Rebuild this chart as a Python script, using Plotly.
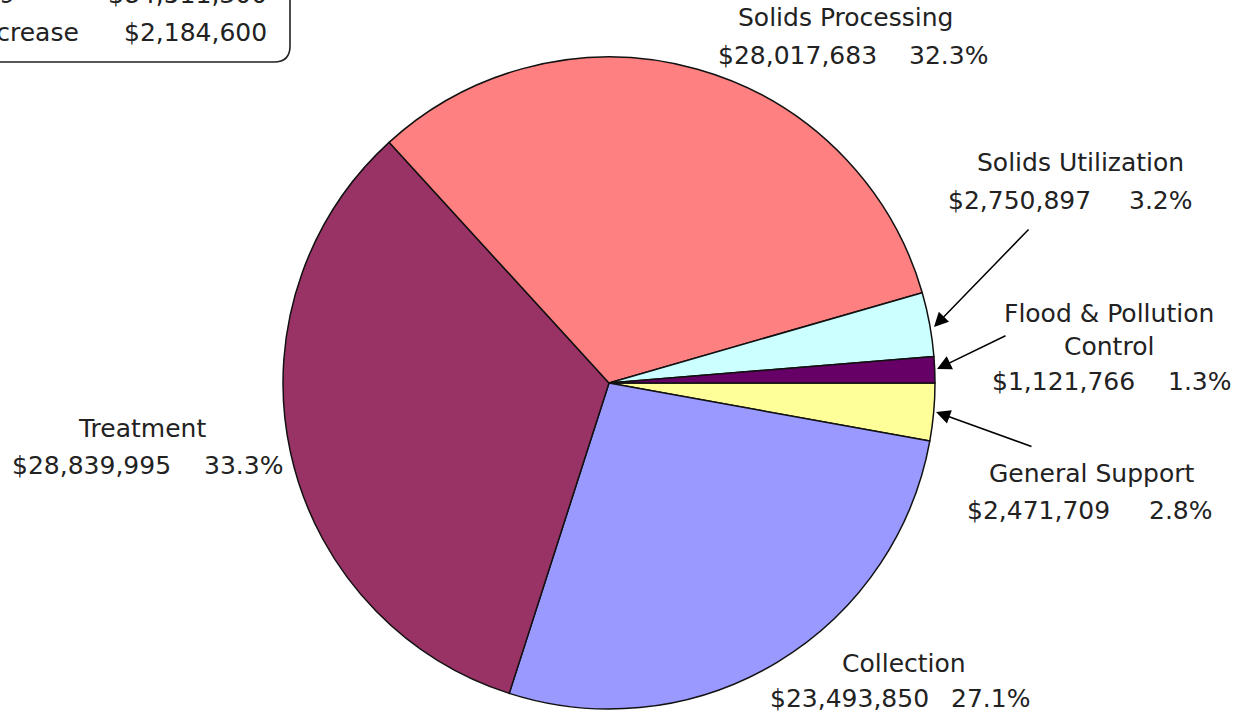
import plotly.graph_objects as go

# ---- data ----
categories = ["General Support", "Collection", "Treatment", "Solids Processing",
              "Solids Utilization", "Flood & Pollution Control"]
values = [2471709, 23493850, 28839995, 28017683, 2750897, 1121766]
percents = [2.8, 27.1, 33.3, 32.3, 3.2, 1.3]
colors = ["#FFFF99", "#9999FF", "#993366", "#FF8080", "#CCFFFF", "#660066"]
label_lines = {
    "General Support": ["General Support"],
    "Collection": ["Collection"],
    "Treatment": ["Treatment"],
    "Solids Processing": ["Solids Processing"],
    "Solids Utilization": ["Solids Utilization"],
    "Flood & Pollution Control": ["Flood & Pollution", "Control"],
}
prior_label = "FY 2019"
prior_total = 84511300
increase_label = "Increase"
increase_value = 2184600

# ---- layout positions (screen pixels; body margin removed) ----
W, H = 1243, 717
OFF = 0
cx, cy, R = 609, 383, 326
FONT = "DejaVu Sans"
FS = 25
TXT = "#222222"


def px(sx):
    return (sx - OFF) / W


def py(sy):
    return 1 - (sy - OFF) / H


label_pos = {
    "Solids Processing": dict(cx=846, ys=[18], ay=55, xl=718, xr=988),
    "Solids Utilization": dict(cx=1080, ys=[162], ay=200, xl=948, xr=1193),
    "Flood & Pollution Control": dict(cx=1109, ys=[313, 346], ay=382, xl=992, xr=1232),
    "General Support": dict(cx=1091, ys=[473], ay=510, xl=967, xr=1213),
    "Treatment": dict(cx=142, ys=[428], ay=465, xl=12, xr=283),
    "Collection": dict(cx=904, ys=[663], ay=698, xl=770, xr=1030),
}
arrows = {
    "Solids Utilization": ((1030, 228), (934, 327)),
    "Flood & Pollution Control": ((1007, 335), (937, 369)),
    "General Support": ((1033, 447), (936, 412)),
}

fig = go.Figure()
fig.add_trace(go.Pie(
    labels=categories, values=values, sort=False, direction="clockwise",
    rotation=90, textinfo="none", hoverinfo="label+value+percent",
    marker=dict(colors=colors, line=dict(color="#111111", width=1.5)),
    domain=dict(x=[px(cx - R), px(cx + R)], y=[py(cy + R), py(cy - R)]),
    showlegend=False,
))
fig.add_trace(go.Scatter(x=[], y=[], showlegend=False, hoverinfo="skip"))

ann = []
font = dict(family=FONT, size=FS, color=TXT)


def text_ann(sx, sy, text, anchor):
    return dict(x=px(sx), y=py(sy), xref="paper", yref="paper", text=text, showarrow=False,
                xanchor=anchor, yanchor="middle", font=font, borderpad=0, borderwidth=0)


for cat, v, pct in zip(categories, values, percents):
    p = label_pos[cat]
    for line, y in zip(label_lines[cat], p["ys"]):
        ann.append(text_ann(p["cx"], y, line, "center"))
    ann.append(text_ann(p["xl"], p["ay"], f"${v:,}", "left"))
    ann.append(text_ann(p["xr"], p["ay"], f"{pct:.1f}%", "right"))
    if cat in arrows:
        (tx, ty), (hx, hy) = arrows[cat]
        ann.append(dict(x=hx, y=hy, ax=tx, ay=ty, xref="x", yref="y", axref="x", ayref="y",
                        text="", showarrow=True, arrowhead=2, arrowsize=1.9, arrowwidth=1.5,
                        arrowcolor="#000000", standoff=0))

# summary box (partly cut off at the top-left)
ann.append(text_ann(15, -5, prior_label, "right"))
ann.append(text_ann(267, -5, f"${prior_total:,}", "right"))
ann.append(text_ann(-27, 32, increase_label, "left"))
ann.append(text_ann(267, 32, f"${increase_value:,}", "right"))

r = 16
box_path = f"M -40,-40 L 290,-40 L 290,{62 - r} Q 290,62 {290 - r},62 L -40,62 Z"

fig.update_layout(
    width=W, height=H, margin=dict(l=0, r=0, t=0, b=0),
    paper_bgcolor="white", plot_bgcolor="white",
    xaxis=dict(range=[OFF, OFF + W], visible=False, fixedrange=True),
    yaxis=dict(range=[OFF + H, OFF], visible=False, fixedrange=True),
    annotations=ann,
    shapes=[dict(type="path", path=box_path, xref="x", yref="y",
                 line=dict(color="#222222", width=1.6), fillcolor="rgba(0,0,0,0)")],
)
fig.write_html("out.html", config={"displayModeBar": False},
               post_script="document.body.style.margin='0';")
